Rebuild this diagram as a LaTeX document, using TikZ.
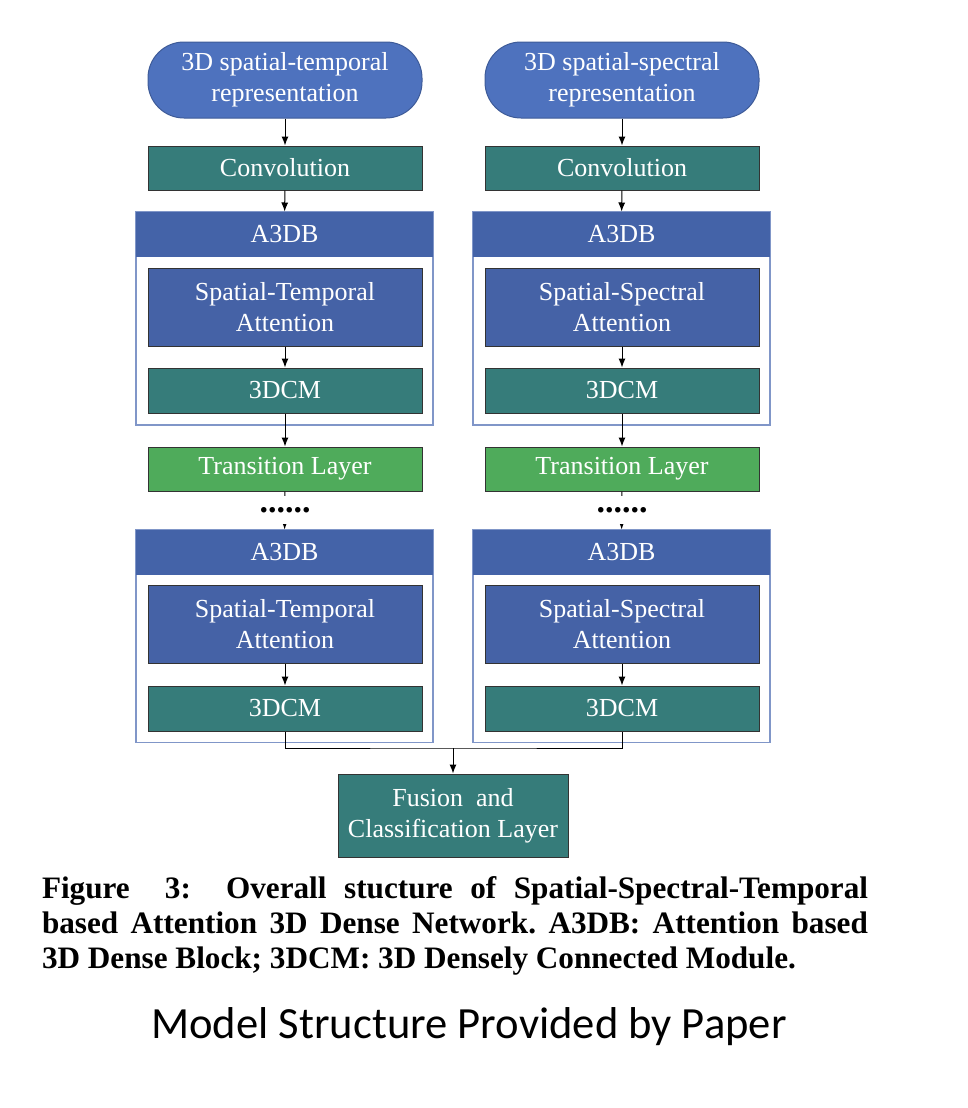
\documentclass[tikz,border=0pt]{standalone}
\usepackage{fontspec}
\setmainfont{Liberation Serif}
\newfontfamily\capfont{Carlito}
\usetikzlibrary{shapes,arrows.meta}

\definecolor{pillBlue}{HTML}{4E72BE}
\definecolor{headBlue}{HTML}{4463A8}
\definecolor{attBlue}{HTML}{4562A6}
\definecolor{teal}{HTML}{367C7A}
\definecolor{transGreen}{HTML}{4FAB5B}
\definecolor{frameBlue}{HTML}{8096C8}

\begin{document}
\frenchspacing
\begin{tikzpicture}[x=0.5pt,y=-0.5pt,>={Latex[length=4.5pt,width=3.5pt]},line width=0.5pt]

\def\leftcol{285}
\def\rightcol{622}

\tikzstyle{block}=[rectangle,draw=black!80,line width=0.5pt,text=white,minimum width=137pt,minimum height=22pt,inner sep=0pt,align=center,font=\fontsize{13}{15.5}\selectfont]
\tikzstyle{input}=[block,rounded corners=18pt,fill=pillBlue,draw=pillBlue!80!black,minimum height=38pt]
\tikzstyle{conv}=[block,fill=teal]
\tikzstyle{attention}=[block,fill=attBlue,minimum height=39pt]
\tikzstyle{dcm}=[block,fill=teal,minimum height=22.5pt]
\tikzstyle{transition}=[block,fill=transGreen]
\tikzstyle{frame}=[rectangle,draw=frameBlue,line width=0.75pt,fill=white,minimum width=148.5pt,minimum height=106.5pt,inner sep=0pt]
\tikzstyle{header}=[rectangle,fill=headBlue,text=white,minimum width=148.5pt,minimum height=22.5pt,inner sep=0pt,font=\fontsize{13}{15}\selectfont]
\tikzstyle{dots}=[fill=white,minimum width=40pt,minimum height=14pt,inner sep=0pt,font=\fontsize{17}{17}\selectfont\bfseries]

\useasboundingbox (0,0) rectangle (968,1108);

%Temporal branch
\node[input] (inTemporal) at (\leftcol,80) {3D spatial-temporal\\representation};
\node[conv] (convTemporal) at (\leftcol,168) {Convolution};
\node[frame] (blockTemporal1) at (284.5,318.5) {};
\node[header] (headTemporal1) at (284.5,234.5) {A3DB};
\node[attention] (attTemporal1) at (\leftcol,307) {Spatial-Temporal\\Attention};
\node[dcm] (dcmTemporal1) at (\leftcol,390.5) {3DCM};
\node[transition] (transTemporal) at (\leftcol,469) {Transition Layer};
\node[frame] (blockTemporal2) at (284.5,636) {};
\node[header] (headTemporal2) at (284.5,552.5) {A3DB};
\node[attention] (attTemporal2) at (\leftcol,624.5) {Spatial-Temporal\\Attention};
\node[dcm] (dcmTemporal2) at (\leftcol,708.5) {3DCM};

%Spectral branch
\node[input] (inSpectral) at (\rightcol,80) {3D spatial-spectral\\representation};
\node[conv] (convSpectral) at (\rightcol,168) {Convolution};
\node[frame] (blockSpectral1) at (621.5,318.5) {};
\node[header] (headSpectral1) at (621.5,234.5) {A3DB};
\node[attention] (attSpectral1) at (\rightcol,307) {Spatial-Spectral\\Attention};
\node[dcm] (dcmSpectral1) at (\rightcol,390.5) {3DCM};
\node[transition] (transSpectral) at (\rightcol,469) {Transition Layer};
\node[frame] (blockSpectral2) at (621.5,636) {};
\node[header] (headSpectral2) at (621.5,552.5) {A3DB};
\node[attention] (attSpectral2) at (\rightcol,624.5) {Spatial-Spectral\\Attention};
\node[dcm] (dcmSpectral2) at (\rightcol,708.5) {3DCM};

\node[block,fill=teal,minimum width=115pt,minimum height=41.5pt] (fusion) at (453,815.5) {Fusion~~and\\Classification Layer};

\draw[->] (inTemporal) -- (convTemporal);
\draw[->] (convTemporal) -- (headTemporal1);
\draw[->] (attTemporal1) -- (dcmTemporal1);
\draw[->] (dcmTemporal1) -- (transTemporal);
\draw[->] (transTemporal) -- (headTemporal2);
\draw[->] (attTemporal2) -- (dcmTemporal2);

\draw[->] (inSpectral) -- (convSpectral);
\draw[->] (convSpectral) -- (headSpectral1);
\draw[->] (attSpectral1) -- (dcmSpectral1);
\draw[->] (dcmSpectral1) -- (transSpectral);
\draw[->] (transSpectral) -- (headSpectral2);
\draw[->] (attSpectral2) -- (dcmSpectral2);

%dots hide the repeated blocks
\node[dots] (dotsTemporal) at (\leftcol,510) {......};
\node[dots] (dotsSpectral) at (\rightcol,510) {......};

%merge into fusion
\coordinate (join) at (453,748);
\draw (dcmTemporal2) |- (join) -| (dcmSpectral2);
\draw[->] (join) -- (fusion);

\node[text width=413pt,align=justify,inner sep=0pt,font=\fontsize{15.6}{17.4}\selectfont\bfseries] (caption) at (455,926) {Figure~~3:~~Overall stucture of Spatial-Spectral-Temporal\linebreak based Attention 3D Dense Network. A3DB: Attention based\linebreak 3D Dense Block; 3DCM: 3D Densely Connected Module.};
\node[font=\capfont\fontsize{22.3}{26}\selectfont] (title) at (469,1027) {Model Structure Provided by Paper};

\end{tikzpicture}
\end{document}
